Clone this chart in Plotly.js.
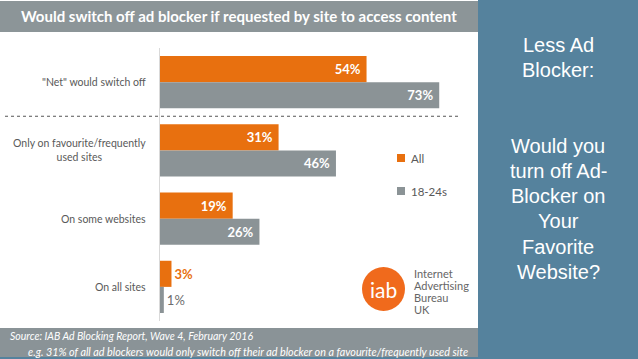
<!DOCTYPE html>
<html>
<head>
<meta charset="utf-8">
<script src="https://cdn.plot.ly/plotly-3.0.1.min.js"></script>
<style>html,body{margin:0;padding:0;background:#55829d;}#chart{width:638px;height:359px;}</style>
</head>
<body>
<div id="chart"></div>
<script>
// ---- data ----
const categories = ['"Net" would switch off', 'Only on favourite/frequently<br>used sites', 'On some websites', 'On all sites'];
const allValues = [54, 31, 19, 3];
const youngValues = [73, 46, 26, 1];
const seriesNames = ['All', '18-24s'];
const seriesColors = ['#e8700f', '#8b9396'];
const outsideColors = ['#e8700f', '#6d6d6d'];
const chartTitle = 'Would switch off ad blocker if requested by site to access content';
const sourceLine = 'Source: IAB Ad Blocking Report, Wave 4, February 2016';
const noteLine = 'e.g. 31% of all ad blockers would only switch off their ad blocker on a favourite/frequently used site';
const sideLines = ['Less Ad', 'Blocker:', '', '', 'Would you', 'turn off Ad-', 'Blocker on', 'Your', 'Favorite', 'Website?'];
const iabLines = ['Internet', 'Advertising', 'Bureau', 'UK'];

// ---- geometry helpers ----
const W = 638, H = 359;
const ML = 160, MT = 48, PW = 306, PH = 273;
const MR = W - ML - PW, MB = H - MT - PH;
const px = v => (v - ML) / PW;
const py = v => (MT + PH - v) / PH;

const series = [allValues, youngValues];
const traces = series.map((vals, i) => ({
  type: 'bar', orientation: 'h',
  name: seriesNames[i],
  y: categories, x: vals,
  marker: {color: seriesColors[i]},
  text: vals.map(v => v + '%\u00a0'),
  textposition: vals.map(v => v >= 10 ? 'inside' : 'outside'),
  insidetextanchor: 'end',
  insidetextfont: {family: 'Lato', size: 13, color: '#ffffff', weight: 'bold'},
  outsidetextfont: {family: 'Lato', size: 13, color: outsideColors[i], weight: i === 0 ? 'bold' : 'normal'},
  textangle: 0, constraintext: 'none', cliponaxis: false,
  hoverinfo: 'skip', showlegend: false
}));

const shapes = [
  {type: 'rect', xref: 'paper', yref: 'paper', x0: px(0), x1: px(478), y0: py(0), y1: py(357), fillcolor: '#ffffff', line: {width: 0}, layer: 'below'},
  {type: 'rect', xref: 'paper', yref: 'paper', x0: px(0), x1: px(478), y0: py(1), y1: py(32), fillcolor: '#8c9598', line: {width: 0}, layer: 'below'},
  {type: 'rect', xref: 'paper', yref: 'paper', x0: px(0), x1: px(478), y0: py(328), y1: py(357), fillcolor: '#8a9397', line: {width: 0}, layer: 'below'},
  {type: 'line', xref: 'paper', yref: 'y', x0: px(5), x1: px(458), y0: 0.5, y1: 0.5, line: {color: '#555555', width: 1, dash: 'dot'}},
  {type: 'circle', xref: 'paper', yref: 'paper', x0: px(362), x1: px(405), y0: py(267), y1: py(311), fillcolor: '#f06a1c', line: {width: 0}}
];
const legendY = [158, 191];
seriesNames.forEach((n, i) => {
  shapes.push({type: 'rect', xref: 'paper', yref: 'paper', x0: px(397), x1: px(405), y0: py(legendY[i] - 4), y1: py(legendY[i] + 4), fillcolor: seriesColors[i], line: {width: 0}});
});

const annotations = [];
categories.forEach((c, i) => {
  annotations.push({xref: 'paper', yref: 'y', x: 0, y: i, xanchor: 'right', xshift: -12, yanchor: 'middle', align: 'center', showarrow: false, text: c, font: {family: 'Lato', size: 10.5, color: '#595959'}});
});
seriesNames.forEach((n, i) => {
  annotations.push({xref: 'paper', yref: 'paper', x: px(409), y: py(legendY[i]), xanchor: 'left', yanchor: 'middle', showarrow: false, text: n, font: {family: 'Lato', size: 11.5, color: '#595959'}});
});
annotations.push({xref: 'paper', yref: 'paper', x: px(239), y: py(16), xanchor: 'center', yanchor: 'middle', showarrow: false, text: '<b>' + chartTitle + '</b>', font: {family: 'Lato', size: 15, color: '#ffffff'}});
annotations.push({xref: 'paper', yref: 'paper', x: px(8), y: py(336), xanchor: 'left', yanchor: 'middle', showarrow: false, text: '<i>' + sourceLine + '</i>', font: {family: 'Lato', size: 10.5, color: '#ffffff'}});
annotations.push({xref: 'paper', yref: 'paper', x: px(470), y: py(351), xanchor: 'right', yanchor: 'middle', showarrow: false, text: '<i>' + noteLine + '</i>', font: {family: 'Lato', size: 10.8, color: '#ffffff'}});
annotations.push({xref: 'paper', yref: 'paper', x: px(383.5), y: py(289), xanchor: 'center', yanchor: 'middle', showarrow: false, text: 'iab', font: {family: 'Lato', size: 21, color: '#ffffff'}});
iabLines.forEach((t, i) => {
  annotations.push({xref: 'paper', yref: 'paper', x: px(412), y: py(273 + 12 * i), xanchor: 'left', yanchor: 'middle', showarrow: false, text: t, font: {family: 'Lato', size: 11, color: '#666666'}});
});
sideLines.forEach((t, i) => {
  if (!t) return;
  annotations.push({xref: 'paper', yref: 'paper', x: px(558), y: py(45 + 25.2 * i), xanchor: 'center', yanchor: 'middle', showarrow: false, text: t, font: {family: 'Liberation Sans, Arial', size: 20, color: '#ffffff'}});
});

const layout = {
  width: W, height: H,
  margin: {l: ML, r: MR, t: MT, b: MB, pad: 0},
  paper_bgcolor: '#55829d', plot_bgcolor: 'rgba(0,0,0,0)',
  barmode: 'group', bargap: 0.235, bargroupgap: 0,
  xaxis: {range: [0, 80], showgrid: false, zeroline: false, showticklabels: false, ticks: '', fixedrange: true},
  yaxis: {type: 'category', categoryorder: 'array', categoryarray: categories, range: [3.5, -0.5], showgrid: false, zeroline: false, showticklabels: false, ticks: '', showline: true, linecolor: '#d9d9d9', linewidth: 1, fixedrange: true},
  shapes: shapes, annotations: annotations, showlegend: false
};

Plotly.newPlot('chart', traces, layout, {displayModeBar: false, staticPlot: true});
</script>
</body>
</html>
